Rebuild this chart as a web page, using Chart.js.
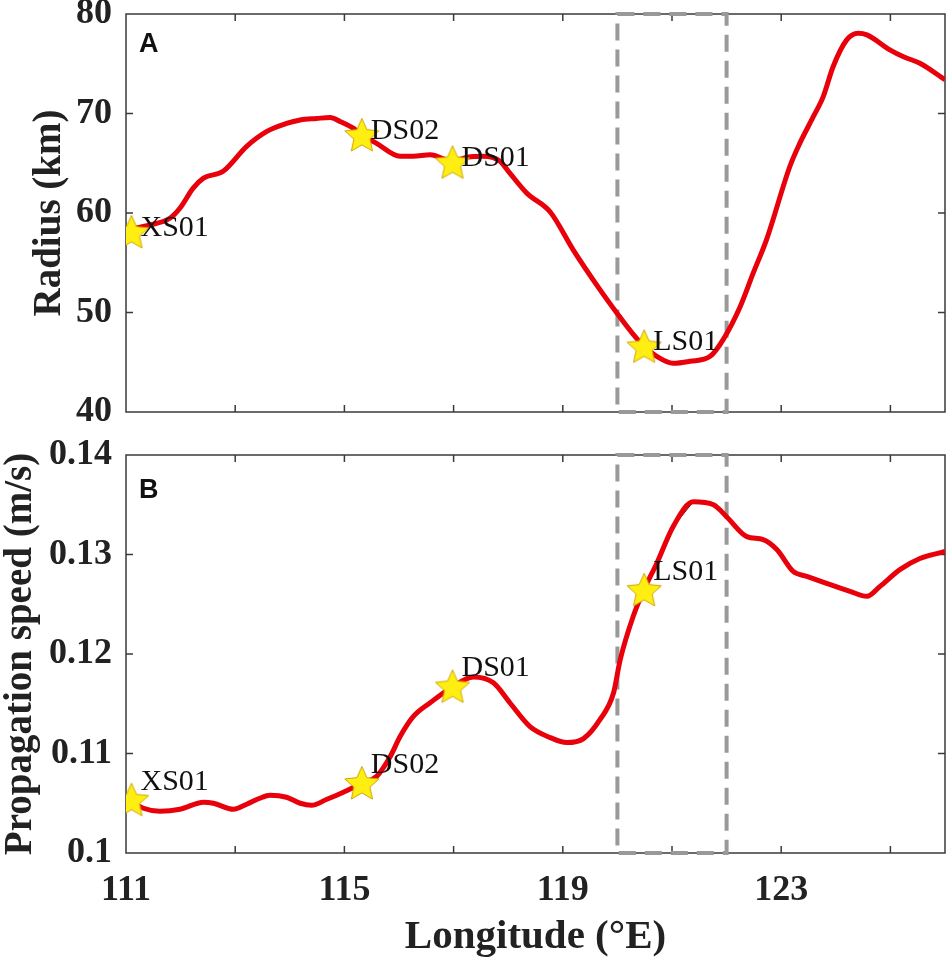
<!DOCTYPE html>
<html>
<head>
<meta charset="utf-8">
<script src="https://cdn.jsdelivr.net/npm/chart.js@4.4.1/dist/chart.umd.min.js"></script>
<style>
  html, body { margin: 0; padding: 0; background: #fff; overflow: hidden; }
  #wrap { position: relative; width: 950px; height: 963px; background: #fff; }
  canvas { position: absolute; left: 0; display: block; }
  #chartA { top: 0; }
  #chartB { top: 430px; }
</style>
</head>
<body>
<div id="wrap">
  <canvas id="chartA" width="950" height="430"></canvas>
  <canvas id="chartB" width="950" height="533"></canvas>
</div>
<script>
// ---- data ----
const lonA = [111.00, 111.44, 111.81, 111.99, 112.23, 112.42, 112.78, 113.21, 113.58, 113.94,
  114.19, 114.49, 114.74, 114.92, 115.17, 115.32, 115.59, 116.02, 116.26, 116.57,
  116.98, 117.25, 117.54, 117.85, 118.03, 118.34, 118.77, 119.19, 119.68, 119.99,
  120.29, 120.49, 120.72, 121.02, 121.33, 121.70, 121.94, 122.25, 122.49, 122.73,
  123.16, 123.34, 123.59, 123.77, 123.95, 124.20, 124.41, 124.57, 124.99, 125.24,
  125.54, 126.00];
const radius = [58.3, 58.8, 59.5, 60.5, 62.5, 63.5, 64.2, 66.7, 68.2, 69.0,
  69.35, 69.5, 69.6, 69.2, 68.5, 67.85, 67.0, 65.7, 65.7, 65.85,
  65.2, 65.6, 65.7, 65.2, 64.0, 62.0, 60.1, 56.3, 52.3, 49.95,
  47.8, 46.6, 45.6, 44.9, 45.1, 45.6, 47.3, 50.6, 54.0, 57.3,
  64.7, 67.0, 69.7, 71.7, 74.7, 77.4, 78.06, 77.9, 76.4, 75.7,
  75.05, 73.4];

const lonB = [111.00, 111.32, 111.62, 111.99, 112.42, 112.60, 112.97, 113.21, 113.45, 113.64,
  113.94, 114.19, 114.40, 114.68, 114.98, 115.32, 115.59, 115.84, 116.02, 116.26,
  116.57, 116.98, 117.36, 117.73, 118.03, 118.40, 118.77, 119.07, 119.38, 119.68,
  119.93, 120.05, 120.29, 120.49, 120.72, 121.02, 121.39, 121.76, 122.00, 122.37,
  122.67, 122.92, 123.22, 123.47, 123.83, 124.26, 124.57, 124.81, 125.18, 125.54,
  126.00];
const speed = [0.1055, 0.1045, 0.1042, 0.1044, 0.1051, 0.1050, 0.1044, 0.1049, 0.1055, 0.1058,
  0.1056, 0.1050, 0.1048, 0.1054, 0.1061, 0.1070, 0.1077, 0.1097, 0.1117, 0.1137,
  0.1151, 0.1167, 0.1177, 0.1171, 0.1151, 0.1127, 0.1116, 0.1111, 0.1115, 0.1134,
  0.1161, 0.1194, 0.1238, 0.1265, 0.1291, 0.1328, 0.1353, 0.1350, 0.1338, 0.1318,
  0.1315, 0.1305, 0.1283, 0.1278, 0.1271, 0.1263, 0.1258, 0.1268, 0.1285, 0.1296,
  0.1303];

const stations = ['XS01', 'DS02', 'DS01', 'LS01'];
const stationLon = [111.10, 115.32, 116.98, 120.49];
const stationRadius = [58.1, 67.85, 65.1, 46.6];
const stationSpeed = [0.10536, 0.10704, 0.11674, 0.12645];

const boxLon = [120, 122];
const lonTicks = [111, 113, 115, 117, 119, 121, 123, 125];
const lonLabels = ['111', '', '115', '', '119', '', '123', ''];
const radiusTicks = [40, 50, 60, 70, 80];
const speedTicks = [0.10, 0.11, 0.12, 0.13, 0.14];
const speedLabels = ['0.1', '0.11', '0.12', '0.13', '0.14'];

// ---- helpers ----
const serif = "'Liberation Serif', 'Times New Roman', serif";

function makeStar(size) {
  const c = document.createElement('canvas');
  c.width = size; c.height = size;
  const g = c.getContext('2d');
  const cx = size / 2, cy = size / 2 + 1.5, R = size / 2 - 1, r = R * 0.47;
  g.beginPath();
  for (let i = 0; i < 10; i++) {
    const ang = -Math.PI / 2 + i * Math.PI / 5;
    const rad = i % 2 === 0 ? R : r;
    g.lineTo(cx + rad * Math.cos(ang), cy + rad * Math.sin(ang));
  }
  g.closePath();
  g.fillStyle = '#ffee12';
  g.fill();
  g.strokeStyle = '#cfa500';
  g.lineWidth = 1;
  g.stroke();
  return c;
}
const star = makeStar(38);

const toXY = (xs, ys) => xs.map((v, i) => ({x: v, y: ys[i]}));

const framePlugin = {
  id: 'frame',
  beforeDatasetsDraw(chart) {
    const {ctx, chartArea: a, scales: {x, y}} = chart;
    ctx.save();
    ctx.strokeStyle = '#3a3a3a';
    ctx.lineWidth = 1.5;
    ctx.strokeRect(a.left, a.top, a.right - a.left, a.bottom - a.top);
    ctx.beginPath();
    lonTicks.forEach(v => {
      const px = x.getPixelForValue(v);
      if (px <= a.left + 1 || px >= a.right - 1) return;
      ctx.moveTo(px, a.bottom); ctx.lineTo(px, a.bottom - 7);
      ctx.moveTo(px, a.top); ctx.lineTo(px, a.top + 7);
    });
    y.ticks.forEach(t => {
      const py = y.getPixelForValue(t.value);
      if (py <= a.top + 1 || py >= a.bottom - 1) return;
      ctx.moveTo(a.left, py); ctx.lineTo(a.left + 7, py);
      ctx.moveTo(a.right, py); ctx.lineTo(a.right - 7, py);
    });
    ctx.stroke();
    // dashed box
    const x0 = x.getPixelForValue(boxLon[0]), x1 = x.getPixelForValue(boxLon[1]);
    ctx.strokeStyle = '#999999';
    ctx.lineWidth = 4;
    ctx.setLineDash([17, 9]);
    ctx.strokeRect(x0, a.top, x1 - x0, a.bottom - a.top);
    ctx.restore();
  }
};

const labelPlugin = {
  id: 'stationLabels',
  afterDatasetsDraw(chart, args, opts) {
    const {ctx, chartArea: a} = chart;
    const meta = chart.getDatasetMeta(0);
    ctx.save();
    ctx.fillStyle = '#111';
    ctx.font = '30px ' + serif;
    ctx.textAlign = 'left';
    ctx.textBaseline = 'middle';
    meta.data.forEach((pt, i) => {
      ctx.fillText(stations[i], pt.x + 9, pt.y + opts.dy);
    });
    ctx.font = "bold 27px 'Liberation Sans', Arial, sans-serif";
    ctx.textBaseline = 'alphabetic';
    ctx.fillText(opts.letter, a.left + 13, a.top + opts.letterY);
    ctx.restore();
  }
};

function makePanel(id, cfg) {
  return new Chart(document.getElementById(id), {
    type: 'line',
    data: {
      datasets: [
        {
          data: toXY(stationLon, cfg.stationY),
          showLine: false,
          pointStyle: star,
          pointRadius: 2,
          pointBorderWidth: 0,
          order: 0
        },
        {
          data: toXY(cfg.lon, cfg.values),
          borderColor: '#e8000b',
          borderWidth: 5,
          pointRadius: 0,
          cubicInterpolationMode: 'monotone',
          order: 1
        },
        {
          data: toXY(cfg.lon, cfg.values),
          borderColor: '#111',
          borderWidth: 1,
          pointRadius: 0,
          tension: 0,
          order: 2
        }
      ]
    },
    options: {
      responsive: false,
      animation: false,
      layout: {padding: cfg.padding},
      plugins: {
        legend: {display: false},
        tooltip: {enabled: false},
        stationLabels: {dy: cfg.labelDy, letter: cfg.letter, letterY: cfg.letterY}
      },
      scales: {
        x: {
          type: 'linear',
          min: 111,
          max: 126,
          display: cfg.showX,
          grid: {display: false, drawTicks: false},
          border: {display: false},
          afterBuildTicks: s => { s.ticks = lonTicks.map(v => ({value: v})); },
          afterFit: s => { s.height = cfg.showX ? 110 : 0; s.paddingLeft = 0; s.paddingRight = 0; },
          ticks: {
            padding: 16,
            maxRotation: 0,
            autoSkip: false,
            color: '#222',
            font: {family: serif, size: 36, weight: 'bold'},
            callback: v => lonLabels[lonTicks.indexOf(v)]
          },
          title: {
            display: cfg.showX,
            text: 'Longitude (°E)',
            color: '#222',
            font: {family: serif, size: 41, weight: 'bold', lineHeight: 1},
            padding: {top: 0, bottom: 5}
          }
        },
        y: {
          type: 'linear',
          min: cfg.yTicks[0],
          max: cfg.yTicks[cfg.yTicks.length - 1],
          grid: {display: false, drawTicks: false},
          border: {display: false},
          afterBuildTicks: s => { s.ticks = cfg.yTicks.map(v => ({value: v})); },
          afterFit: s => { s.width = 126; s.paddingTop = 0; s.paddingBottom = 0; },
          ticks: {
            padding: 14,
            autoSkip: false,
            color: '#222',
            font: {family: serif, size: 36, weight: 'bold'},
            callback: cfg.yLabel
          },
          title: {
            display: true,
            text: cfg.yTitle,
            color: '#222',
            font: {family: serif, size: 39, weight: 'bold', lineHeight: 1},
            padding: {top: cfg.titlePad, bottom: 0}
          }
        }
      }
    },
    plugins: [framePlugin, labelPlugin]
  });
}

makePanel('chartA', {
  lon: lonA, values: radius, stationY: stationRadius,
  yTicks: radiusTicks, yLabel: v => String(v), yTitle: 'Radius (km)', titlePad: 30,
  padding: {top: 14, right: 5, bottom: 18, left: 0},
  showX: false, labelDy: -4, letter: 'A', letterY: 38
});

makePanel('chartB', {
  lon: lonB, values: speed, stationY: stationSpeed,
  yTicks: speedTicks, yLabel: v => speedLabels[speedTicks.findIndex(t => Math.abs(t - v) < 1e-9)],
  yTitle: 'Propagation speed (m/s)', titlePad: 1,
  padding: {top: 25, right: 5, bottom: 0, left: 0},
  showX: true, labelDy: -18, letter: 'B', letterY: 43
});
</script>
</body>
</html>
